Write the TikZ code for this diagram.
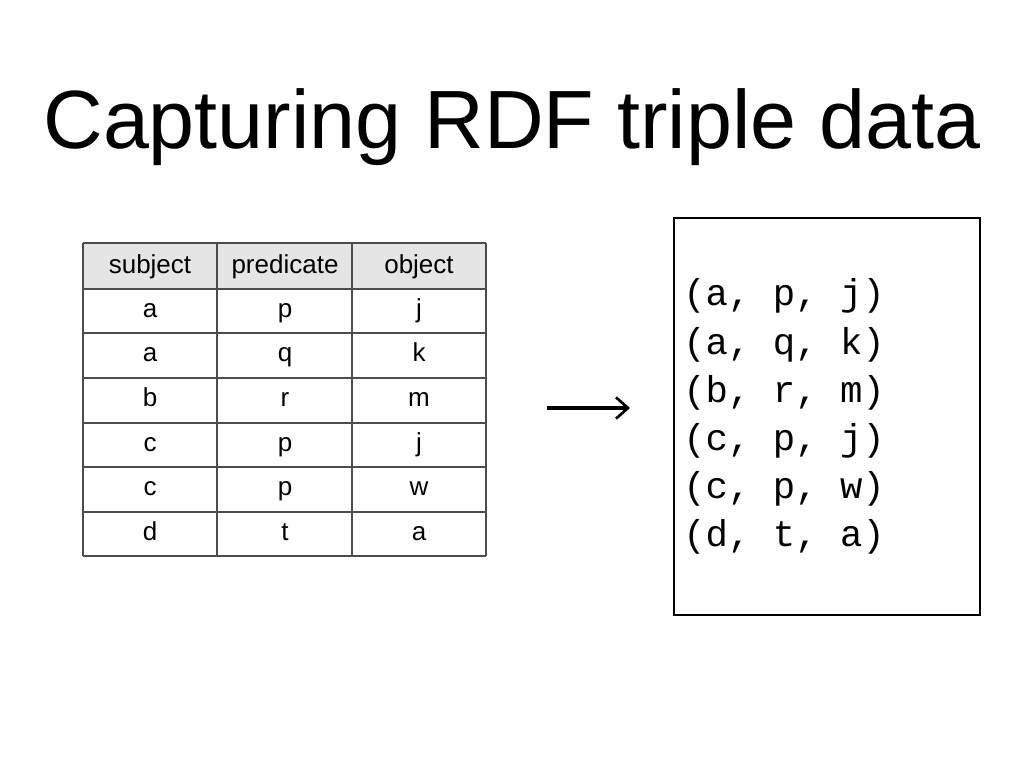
\documentclass[tikz,border=0pt]{standalone}
\usepackage{fontspec}
\setmainfont{Liberation Sans}
\newfontfamily\monof{Liberation Mono}
\usetikzlibrary{arrows.meta}
\begin{document}
\begin{tikzpicture}[x=0.75pt,y=-0.75pt,
  cell/.style={font=\fontsize{19.5}{22}\selectfont,anchor=center},
  tline/.style={draw=black!70,line width=0.8pt},
  mono/.style={font=\monof\fontsize{28}{30}\selectfont,anchor=base west,inner sep=0pt}]
\useasboundingbox (0,0) rectangle (1024,768);
\node[font=\fontsize{62}{70}\selectfont,anchor=base] (title) at (512,148) {Capturing RDF triple data};
\fill[black!10] (83,243) rectangle (486,289);
\foreach \y in {243,289,333,378,423,467,512,556} \draw[tline] (83,\y) -- (486,\y);
\foreach \x in {83,217,352,486} \draw[tline] (\x,243) -- (\x,556);
\node[cell] (h1) at (150,267) {subject};
\node[cell] (h2) at (285,267) {predicate};
\node[cell] (h3) at (419,267) {object};
\foreach \s/\p/\o/\y [count=\i] in {a/p/j/311,a/q/k/355,b/r/m/400,c/p/j/445,c/p/w/489,d/t/a/534}{
  \node[cell] (s\i) at (150,\y) {\vphantom{bp}\s};
  \node[cell] (p\i) at (285,\y) {\vphantom{bp}\p};
  \node[cell] (o\i) at (419,\y) {\vphantom{bp}\o};
}
\coordinate (as) at (547,408);
\coordinate (ae) at (630,408);
\draw[line width=3pt,-{Straight Barb[length=9pt,width=16pt,line width=2pt]}] (as) -- (ae);
\node[draw,line width=1.2pt,minimum width=306*0.75pt,minimum height=397*0.75pt,anchor=north west] (box) at (673,217) {};
\foreach \t/\y [count=\i] in {{(a, p, j)}/305,{(a, q, k)}/354,{(b, r, m)}/402,{(c, p, j)}/450,{(c, p, w)}/498,{(d, t, a)}/546}
  \node[mono] (r\i) at (683,\y) {\t};
\end{tikzpicture}
\end{document}
